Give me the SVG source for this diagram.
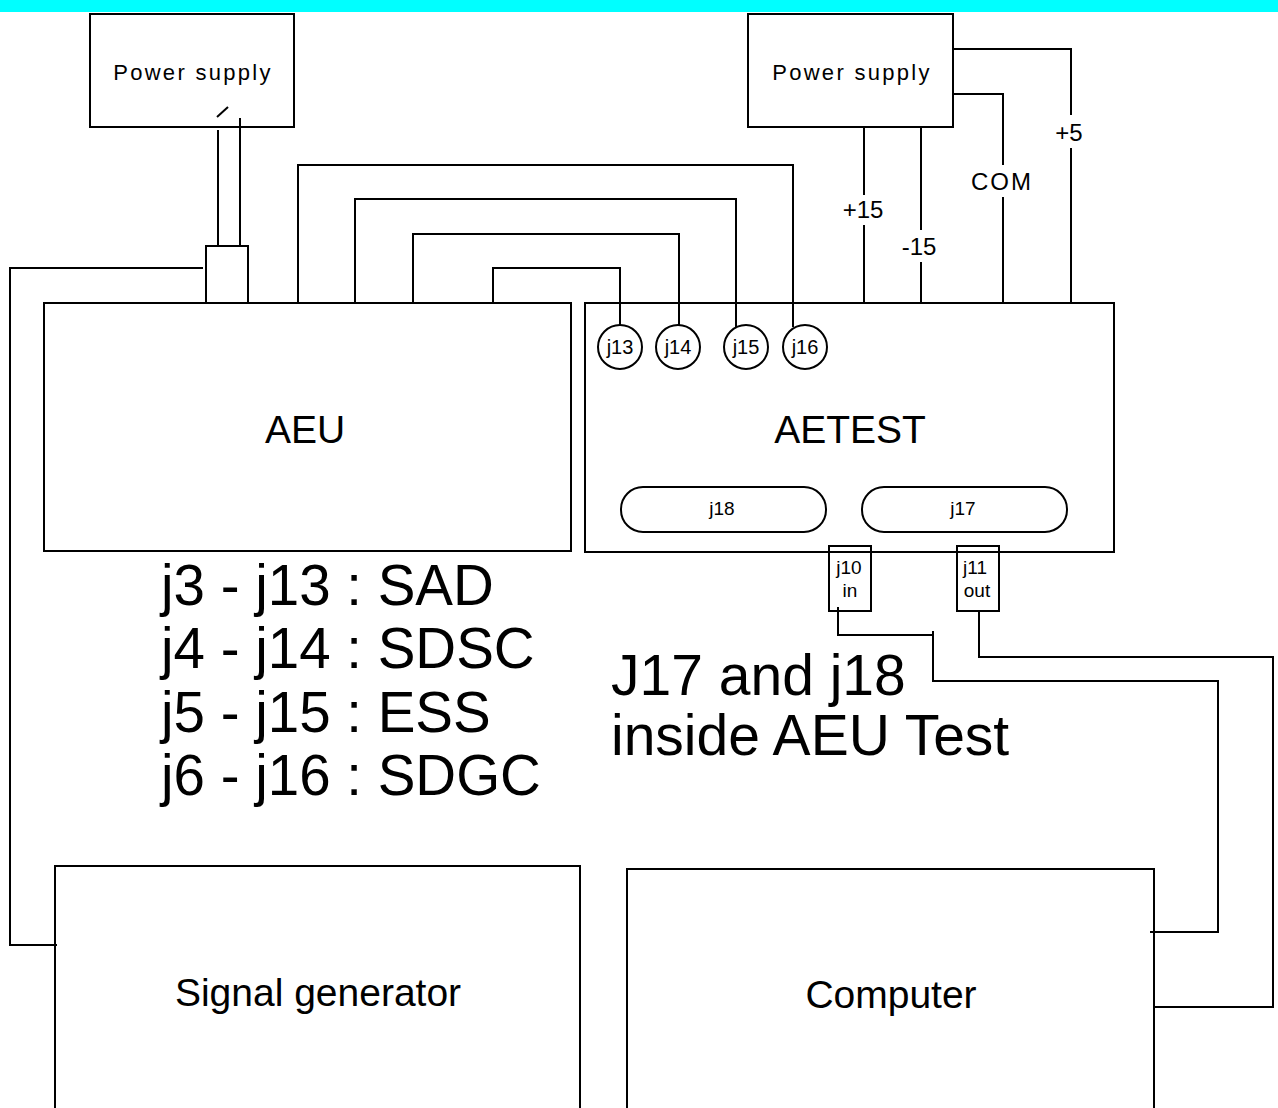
<svg xmlns="http://www.w3.org/2000/svg" width="1278" height="1108" viewBox="0 0 1278 1108">
<style>
.box{fill:none;stroke:#000;stroke-width:2}
.w{fill:none;stroke:#000;stroke-width:2}
.t{font-family:"Liberation Sans",Arial,sans-serif;fill:#000}
.ps{font-size:22px;letter-spacing:2.3px}
.big{font-size:39px}
.leg{font-size:56.5px}
.note{font-size:57px}
.sm{font-size:20px}
.lb{font-size:24px}
</style>
<rect x="0" y="0" width="1278" height="1108" fill="#fff"/>
<rect x="0" y="0" width="1278" height="12" fill="#00ffff"/>

<g id="connectors">
  <line class="w" x1="217" y1="117" x2="228" y2="107"/>
  <line class="w" x1="218" y1="130" x2="218" y2="247"/>
  <line class="w" x1="240" y1="118" x2="240" y2="247"/>
  <polyline class="w" points="203,268 10,268 10,945 57,945"/>
  <polyline class="w" points="298,303 298,165 793,165 793,327"/>
  <polyline class="w" points="355,303 355,199 736,199 736,327"/>
  <polyline class="w" points="413,303 413,234 679,234 679,325"/>
  <polyline class="w" points="493,303 493,268 620,268 620,325"/>
  <line class="w" x1="864" y1="127" x2="864" y2="195"/>
  <line class="w" x1="864" y1="225" x2="864" y2="303"/>
  <line class="w" x1="921" y1="127" x2="921" y2="230"/>
  <line class="w" x1="921" y1="262" x2="921" y2="303"/>
  <polyline class="w" points="953,94 1003,94 1003,165"/>
  <line class="w" x1="1003" y1="197" x2="1003" y2="303"/>
  <polyline class="w" points="953,49 1071,49 1071,115"/>
  <line class="w" x1="1071" y1="148" x2="1071" y2="303"/>
  <polyline class="w" points="838,607 838,635 933,635 933,681 1218,681 1218,932 1150,932"/>
  <line class="w" x1="933" y1="631" x2="933" y2="637"/>
  <polyline class="w" points="979,611 979,657 1273,657 1273,1007 1155,1007"/>
</g>

<g id="ps-left">
  <rect class="box" x="90" y="14" width="204" height="113"/>
  <text class="t ps" x="193" y="80" text-anchor="middle">Power supply</text>
</g>

<g id="ps-right">
  <rect class="box" x="748" y="14" width="205" height="113"/>
  <text class="t ps" x="852" y="80" text-anchor="middle">Power supply</text>
</g>

<g id="labels-power">
  <text class="t lb" x="863" y="218" text-anchor="middle">+15</text>
  <text class="t lb" x="919" y="255" text-anchor="middle">-15</text>
  <text class="t lb" x="1002" y="190" text-anchor="middle" letter-spacing="2">COM</text>
  <text class="t lb" x="1069" y="141" text-anchor="middle">+5</text>
</g>

<g id="connector-aeu">
  <rect class="box" x="206" y="246" width="42" height="57" fill="#fff"/>
</g>

<g id="aeu">
  <rect class="box" x="44" y="303" width="527" height="248"/>
  <text class="t big" x="305" y="443" text-anchor="middle">AEU</text>
</g>

<g id="aetest">
  <rect class="box" x="585" y="303" width="529" height="249"/>
  <text class="t big" x="850" y="443" text-anchor="middle">AETEST</text>
</g>

<g id="j13"><circle class="box" cx="620" cy="347" r="22"/><text class="t sm" x="620" y="354" text-anchor="middle">j13</text></g>
<g id="j14"><circle class="box" cx="678" cy="347" r="22"/><text class="t sm" x="678" y="354" text-anchor="middle">j14</text></g>
<g id="j15"><circle class="box" cx="746" cy="347" r="22"/><text class="t sm" x="746" y="354" text-anchor="middle">j15</text></g>
<g id="j16"><circle class="box" cx="805" cy="347" r="22"/><text class="t sm" x="805" y="354" text-anchor="middle">j16</text></g>

<g id="j18"><rect class="box" x="621" y="487" width="205" height="45" rx="22" ry="22"/><text class="t" font-size="19" x="722" y="515" text-anchor="middle">j18</text></g>
<g id="j17"><rect class="box" x="862" y="487" width="205" height="45" rx="22" ry="22"/><text class="t" font-size="19" x="963" y="515" text-anchor="middle">j17</text></g>

<g id="j10">
  <rect class="box" x="829" y="546" width="42" height="65" fill="#fff"/>
  <text class="t" font-size="19" x="849" y="574" text-anchor="middle">j10</text>
  <text class="t" font-size="19" x="850" y="597" text-anchor="middle">in</text>
</g>
<g id="j11">
  <rect class="box" x="957" y="546" width="42" height="65" fill="#fff"/>
  <text class="t" font-size="19" x="975" y="574" text-anchor="middle">j11</text>
  <text class="t" font-size="19" x="977" y="597" text-anchor="middle">out</text>
</g>

<g id="legend">
  <text class="t leg" x="161" y="605">j3 - j13 : SAD</text>
  <text class="t leg" x="161" y="668">j4 - j14 : SDSC</text>
  <text class="t leg" x="161" y="732">j5 - j15 : ESS</text>
  <text class="t leg" x="161" y="795">j6 - j16 : SDGC</text>
</g>

<g id="note">
  <text class="t note" x="611" y="695">J17 and j18</text>
  <text class="t note" x="611" y="755">inside AEU Test</text>
</g>

<g id="signal-generator">
  <rect class="box" x="55" y="866" width="525" height="300"/>
  <text class="t big" x="318" y="1006" text-anchor="middle">Signal generator</text>
</g>

<g id="computer">
  <rect class="box" x="627" y="869" width="527" height="300"/>
  <text class="t big" x="891" y="1008" text-anchor="middle">Computer</text>
</g>
</svg>
